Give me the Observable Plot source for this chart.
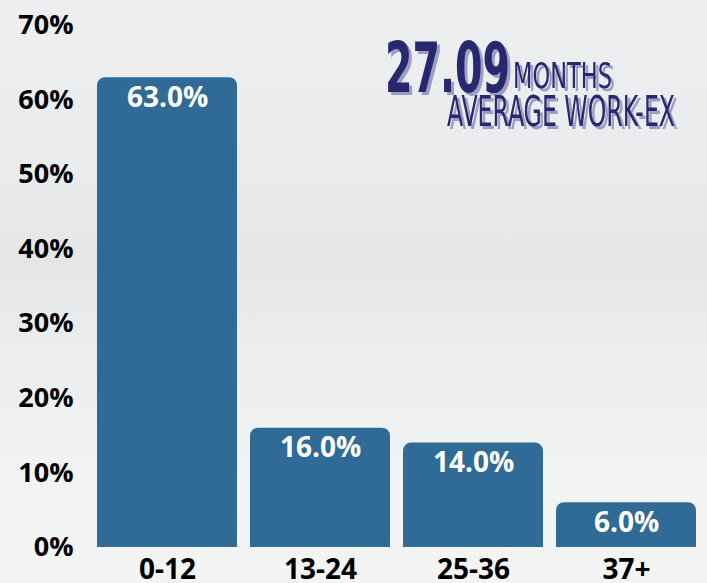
<!DOCTYPE html>
<html>
<head>
<meta charset="utf-8">
<script src="https://cdn.jsdelivr.net/npm/d3@7"></script>
<script src="https://cdn.jsdelivr.net/npm/@observablehq/plot@0.6"></script>
<style>
  html, body { margin: 0; padding: 0; }
  body { width: 707px; height: 583px; overflow: hidden; position: relative;
    background: linear-gradient(180deg, #eceeef 0%, #e9ebec 30%, #e4e6e7 45%, #eceeee 60%, #f1f2f2 80%, #f4f4f4 100%); }
  #chart { position: absolute; left: 0; top: 0; }
  #headline { position: absolute; left: 0; top: 0; pointer-events: none; }
  #headline text { font-family: "DejaVu Sans Condensed", "DejaVu Sans", sans-serif; }
  #headline g { filter: drop-shadow(3px 3px 0 #9d9dc6); }
</style>
</head>
<body>
<div id="chart"></div>
<svg id="headline" width="707" height="160">
  <g fill="#28286f">
    <text x="385" y="92" font-size="70" font-weight="700" textLength="125" lengthAdjust="spacingAndGlyphs">27.09</text>
    <text x="513" y="88" font-size="35" font-weight="400" textLength="99" lengthAdjust="spacingAndGlyphs">MONTHS</text>
    <text x="447" y="126" font-size="42" font-weight="400" textLength="228" lengthAdjust="spacingAndGlyphs">AVERAGE WORK-EX</text>
  </g>
</svg>
<script>
const categories = ["0-12", "13-24", "25-36", "37+"];
const shares = [63.0, 16.0, 14.0, 6.0];
const yTicks = [0, 10, 20, 30, 40, 50, 60, 70];

const data = categories.map((c, i) => ({ cat: c, v: shares[i] }));
const barColor = "#2f6b96";

const chart = Plot.plot({
  width: 707,
  height: 583,
  marginLeft: 90,
  marginRight: 5,
  marginTop: 25,
  marginBottom: 36,
  style: { background: "transparent", fontFamily: "'Open Sans', sans-serif", overflow: "visible" },
  x: { domain: categories, paddingInner: 0.085, paddingOuter: 0.04, label: null },
  y: { domain: [0, 70], label: null },
  marks: [
    Plot.barY(data, { x: "cat", y: "v", fill: barColor, rx: 8 }),
    Plot.barY(data, { x: "cat", y1: 0, y2: d => Math.min(d.v, 2), fill: barColor }),
    Plot.text(data, { x: "cat", y: "v", text: d => d.v.toFixed(1) + "%", dy: 20, fill: "white",
      fontSize: 28, fontWeight: 700 }),
    Plot.axisY({ ticks: yTicks, tickFormat: d => d + "%", tickSize: 0, tickPadding: 17,
      fontSize: 27, fontWeight: 700, fill: "#000" }),
    Plot.axisX({ tickSize: 0, tickPadding: 12, fontSize: 28, fontWeight: 700, fill: "#000" })
  ]
});
document.getElementById("chart").appendChild(chart);
</script>
</body>
</html>
